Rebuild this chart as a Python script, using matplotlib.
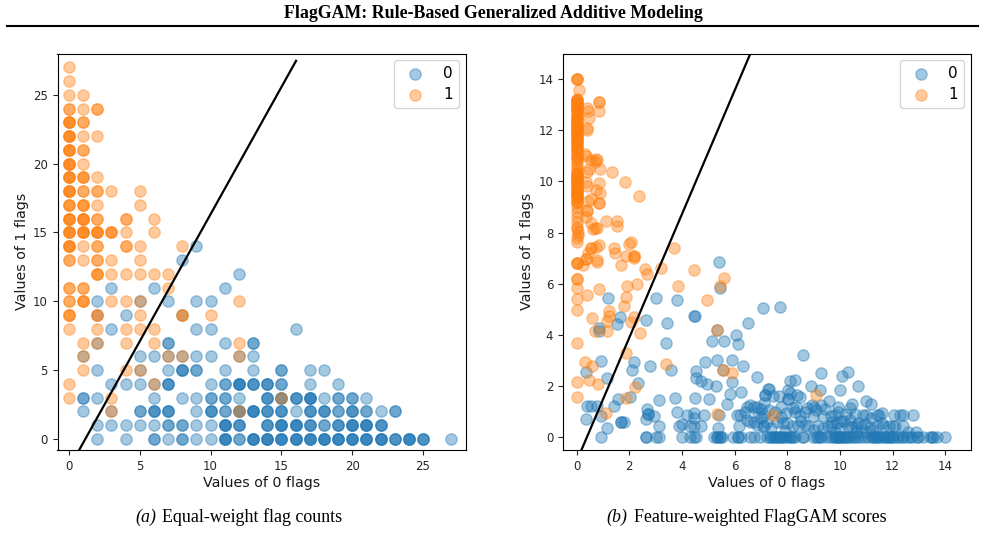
import matplotlib
matplotlib.use("Agg")
import matplotlib.pyplot as plt
import numpy as np

W, H = 985, 533
BLUE, ORANGE = "#1f77b4", "#ff7f0e"

# Panel (a): flag counts per item, with the number of items sharing each grid cell
a0_x = [9, 8, 12, 3, 6, 11, 2, 5, 7, 9, 10, 2, 4, 8, 3, 9, 10,
        2, 7, 11, 13, 16, 1, 5, 6, 7, 8, 9, 10, 12, 13,
        2, 5, 7, 8, 9, 11, 13, 15, 17, 18,
        3, 4, 5, 6, 7, 10, 11, 12, 13, 14, 15, 17, 19,
        1, 2, 6, 8, 9, 10, 11, 12, 14, 15, 16, 17, 18, 19, 20, 21,
        1, 3, 5, 6, 7, 9, 10, 11, 12, 13, 14, 15, 16, 17, 18, 19, 20, 21, 22, 23,
        2, 3, 4, 5, 6, 7, 8, 9, 10, 11, 12, 14, 15, 16, 17, 18, 19, 20, 21, 22,
        2, 4, 6, 7, 8, 9, 10, 11, 12, 13, 14, 15, 16, 17, 18, 19, 20, 21, 22, 23, 24, 25, 27]
a0_y = [14, 13, 12, 11, 11, 11, 10, 10, 10, 10, 10, 9, 9, 9, 8, 8, 8,
        7, 7, 7, 7, 8, 6, 6, 6, 6, 6, 6, 6, 6, 6,
        5, 5, 5, 5, 5, 5, 5, 5, 5, 5,
        4, 4, 4, 4, 4, 4, 4, 4, 4, 4, 4, 4, 4,
        3, 3, 3, 3, 3, 3, 3, 3, 3, 3, 3, 3, 3, 3, 3, 3,
        2, 2, 2, 2, 2, 2, 2, 2, 2, 2, 2, 2, 2, 2, 2, 2, 2, 2, 2, 2,
        1, 1, 1, 1, 1, 1, 1, 1, 1, 1, 1, 1, 1, 1, 1, 1, 1, 1, 1, 1,
        0, 0, 0, 0, 0, 0, 0, 0, 0, 0, 0, 0, 0, 0, 0, 0, 0, 0, 0, 0, 0, 0, 0]
a0_n = [1, 1, 1, 1, 1, 1, 1, 1, 1, 1, 1, 1, 1, 1, 1, 1, 1,
        1, 2, 1, 2, 1, 1, 1, 1, 1, 1, 1, 1, 1, 1,
        1, 1, 1, 3, 2, 1, 1, 2, 1, 1,
        1, 1, 1, 1, 3, 1, 2, 4, 3, 3, 2, 1, 1,
        2, 1, 1, 1, 1, 2, 2, 1, 3, 3, 3, 4, 1, 2, 2, 1,
        1, 1, 2, 3, 3, 1, 3, 2, 3, 4, 3, 3, 1, 3, 3, 2, 3, 2, 1, 2,
        1, 1, 1, 1, 1, 2, 2, 1, 1, 4, 3, 3, 4, 4, 3, 2, 3, 4, 4, 3,
        1, 1, 2, 1, 2, 1, 1, 4, 2, 4, 4, 4, 4, 4, 4, 4, 4, 4, 4, 3, 4, 3, 1]

a1_x = [0, 0, 0, 1, 0, 1, 2, 0, 1, 0, 1, 2, 0, 1, 0, 1,
        0, 1, 2, 0, 1, 2, 3, 5, 0, 1, 2, 5, 0, 1, 2, 4, 6,
        0, 1, 2, 3, 4, 6, 0, 1, 2, 4, 5, 8,
        0, 1, 2, 3, 5, 2, 3, 4, 5, 6, 7, 0, 1, 7,
        0, 1, 3, 4, 5, 12, 0, 2, 5, 8, 10, 0, 2, 4, 5, 6,
        1, 2, 4, 6, 12, 1, 7, 8, 12, 1, 4, 5,
        0, 6, 0, 3, 3, 12, 15]
a1_y = [27, 26, 25, 25, 24, 24, 24, 23, 23, 22, 22, 22, 21, 21, 20, 20,
        19, 19, 19, 18, 18, 18, 18, 18, 17, 17, 17, 17, 16, 16, 16, 16, 16,
        15, 15, 15, 15, 15, 15, 14, 14, 14, 14, 14, 14,
        13, 13, 13, 13, 13, 12, 12, 12, 12, 12, 12, 11, 11, 11,
        10, 10, 10, 10, 10, 10, 9, 9, 9, 9, 9, 8, 8, 8, 8, 8,
        7, 7, 7, 7, 7, 6, 6, 6, 6, 5, 5, 5,
        4, 4, 3, 3, 2, 2, 3]
a1_n = [1, 1, 1, 1, 2, 1, 2, 4, 2, 4, 1, 1, 4, 2, 4, 1,
        4, 3, 1, 4, 2, 2, 1, 1, 3, 3, 1, 1, 4, 4, 2, 2, 1,
        4, 4, 4, 3, 1, 1, 4, 1, 2, 2, 1, 1,
        2, 1, 2, 1, 1, 3, 1, 1, 1, 1, 1, 2, 2, 1,
        2, 3, 1, 1, 1, 1, 3, 2, 1, 2, 1, 1, 1, 1, 1, 1,
        1, 1, 1, 1, 1, 1, 1, 1, 1, 1, 1, 1,
        1, 1, 1, 1, 1, 1, 1]

# Panel (b): feature-weighted scores
b0_x = [1.2, 3.03, 3.8, 5.39, 5.46, 7.07, 6.51, 4.51, 4.45, 2.64, 3.43, 1.65, 1.53, 0.86, 0.86, 3.4, 5.32, 5.15,
        5.58, 6.05, 6.13, 5.34, 5.89, 6.31, 6.86, 0.93, 0.35, 1.14, 2.18, 2.09, 2.8, 3.59, 4.87, 4.54, 4.54, 4.73,
        4.94, 5.29, 5.55, 5.91, 6.25, 5.82, 5.7, 5.04, 4.51, 3.73, 3.12, 2.33, 2.03, 1.56, 1.43, 0.41, 0.53, 0.76,
        0.34, 0.93, 1.17, 0.91, 1.67, 1.67, 1.8, 2.66, 2.72, 2.72, 2.64, 2.95, 3.11, 2.64, 2.64, 3.02, 3.11,
        3.81, 4.18, 4.47, 4.47, 4.84, 5.39, 3.99, 3.9, 4.31, 4.47, 4.71, 5.37,
        3.99, 4.31, 4.44, 4.54, 5.2, 5.32, 5.32, 5.45, 5.45, 5.53, 5.92, 6.11, 6.11, 6.24, 6.59, 6.72, 6.97, 7.22,
        6.08, 6.21, 6.15, 7.29, 7.16, 7.1, 6.59, 6.46, 6.72, 6.84, 6.4, 6.59, 6.72, 6.9, 7.1, 6.46, 7.1, 7.22, 6.84,
        7.74, 7.0, 8.6, 9.3, 10.09, 10.32, 10.67, 9.99, 8.89, 9.24, 8.31, 8.12, 8.04, 8.1, 8.04, 8.04, 8.38, 8.48,
        7.25, 7.68, 7.47, 7.15, 9.58, 11.0, 11.19, 9.94, 10.47, 10.38, 10.57, 8.93, 9.0, 9.28, 8.23, 8.29, 8.67,
        8.96, 8.48, 8.54, 8.23, 8.67, 7.78, 7.84, 7.6, 7.02, 7.09, 7.4,
        9.37, 9.68, 9.81, 9.94, 10.04, 10.38, 10.89, 11.0, 11.17, 11.4, 11.59, 11.5, 12.05, 12.28, 12.38, 12.78,
        9.18, 9.37, 9.56, 9.68, 10.0, 10.32, 10.45, 10.63, 10.82, 11.14, 11.42, 11.63, 12.03, 12.1, 12.41,
        7.34, 7.4, 7.47, 7.53, 7.59, 7.66, 7.72, 7.78, 7.84, 7.91, 8.04, 8.1, 8.16, 8.23, 8.29, 8.61, 8.61, 8.99,
        9.11, 9.18, 9.24, 9.3, 9.49, 9.62, 9.75, 9.81, 9.87, 9.94, 9.94, 10.0, 10.06, 10.13, 10.19, 10.25, 10.32,
        10.38, 10.51, 10.57, 10.7, 10.82, 10.95, 11.08, 11.2, 11.27, 11.33, 11.39, 11.46, 11.52, 11.65, 11.71,
        11.77, 11.84, 11.9, 11.96, 12.03, 12.15, 12.22, 12.34, 12.41, 12.53, 12.66, 12.72, 12.91, 12.98, 13.17,
        13.42, 13.49, 13.55, 13.68, 14.0,
        7.3, 7.55, 7.75, 7.95, 8.35, 8.75, 9.1, 9.45, 9.7, 9.9, 10.15, 10.25, 10.7, 10.95, 11.2, 11.6, 11.85,
        12.6, 12.9, 8.0, 8.4, 9.0, 10.6, 11.0, 9.8, 7.9, 8.8]
b0_y = [5.44, 5.44, 5.35, 6.84, 5.83, 5.05, 4.48, 4.73, 4.75, 4.58, 4.48, 4.69, 4.44, 4.26, 4.16, 3.7, 4.21, 3.78,
        3.78, 4.0, 3.63, 3.02, 3.02, 2.78, 2.35, 2.99, 2.55, 2.33, 2.93, 2.64, 2.78, 2.64, 2.93, 2.59, 2.33, 2.2,
        2.07, 2.01, 2.64, 2.16, 1.76, 1.7, 1.29, 1.48, 1.53, 1.54, 1.45, 2.12, 1.59, 1.5, 1.22, 1.22, 1.22, 1.22,
        0.72, 0.81, 0.35, 0.0, 0.58, 0.58, 0.58, 1.12, 0.91, 0.91, 0.72, 0.84, 0.42, 0.0, 0.0, 0.0, 0.0,
        0.97, 0.88, 0.94, 0.77, 0.88, 0.88, 0.52, 0.42, 0.42, 0.42, 0.42, 0.35,
        0.0, 0.0, 0.0, 0.0, 0.0, 0.0, 0.0, 0.0, 0.0, 0.0, 0.0, 0.0, 0.0, 0.0, 0.0, 0.0, 0.0, 0.0,
        0.88, 0.88, 0.42, 1.9, 1.66, 1.33, 1.27, 1.2, 1.2, 1.2, 1.0, 0.6, 0.6, 0.94, 0.88, 0.68, 0.42, 0.6, 0.48,
        5.08, 1.1, 3.23, 2.5, 2.41, 2.56, 2.01, 1.86, 2.01, 1.86, 2.25, 2.21, 1.86, 1.73, 1.5, 1.5, 1.66, 1.56,
        1.9, 1.6, 1.6, 1.66, 1.42, 1.42, 1.29, 1.2, 1.31, 1.14, 0.9, 1.27, 1.2, 1.27, 1.14, 1.0, 1.0,
        0.81, 0.81, 0.65, 0.42, 0.48, 0.78, 0.55, 0.6, 0.74, 0.42, 0.35,
        0.81, 0.84, 0.88, 1.0, 0.65, 0.68, 0.88, 0.88, 0.74, 0.88, 0.94, 0.88, 0.85, 0.88, 0.88, 0.88,
        0.42, 0.35, 0.42, 0.42, 0.35, 0.42, 0.39, 0.42, 0.42, 0.39, 0.44, 0.44, 0.44, 0.42, 0.42,
        0.0, 0.0, 0.0, 0.0, 0.0, 0.0, 0.0, 0.0, 0.0, 0.0, 0.0, 0.0, 0.0, 0.0, 0.0, 0.0, 0.0, 0.0,
        0.0, 0.0, 0.0, 0.0, 0.0, 0.0, 0.0, 0.0, 0.0, 0.0, 0.0, 0.0, 0.0, 0.0, 0.0, 0.0, 0.0,
        0.0, 0.0, 0.0, 0.0, 0.0, 0.0, 0.0, 0.0, 0.0, 0.0, 0.0, 0.0, 0.0, 0.0, 0.0,
        0.0, 0.0, 0.0, 0.0, 0.0, 0.0, 0.0, 0.0, 0.0, 0.0, 0.0, 0.0, 0.0, 0.0, 0.0,
        0.0, 0.0, 0.0, 0.0, 0.0,
        1.05, 1.0, 1.18, 0.95, 1.2, 1.15, 1.05, 1.1, 0.6, 0.55, 0.65, 0.9, 0.55, 0.5, 0.3, 0.55, 0.42,
        0.2, 0.2, 0.55, 0.45, 0.3, 0.2, 0.2, 0.2, 0.25, 0.45]

b1_x = [0.0, 0.0, 0.0, 0.08, 0.85, 0.85, 0.85, 0.39, 0.44, 0.46, 0.41, 0.41, 0.32, 0.37, 0.56, 0.75, 0.68, 0.79,
        0.87, 0.47, 0.41, 1.34, 1.85, 2.37, 0.85, 0.37, 0.41, 0.72, 0.87, 0.56, 0.43, 0.85, 0.85, 0.39, 0.34, 0.39,
        1.13, 1.53, 1.52, 0.56, 0.62, 0.77, 0.68, 2.05, 1.99, 1.42, 1.47, 1.86, 2.17, 2.17, 2.17, 3.68, 0.85, 0.56,
        0.56, 0.75, 0.43, 0.34, 0.79, 0.0, 0.0, 0.0, 0.25, 0.35, 0.79, 0.0, 0.0, 0.0, 0.0, 0.0, 0.0, 0.0, 0.0,
        0.86, 0.41, 0.57, 1.23, 1.23, 1.14, 1.14, 0.7, 1.88, 1.79, 1.91, 2.29, 2.6, 2.66, 3.21, 4.47, 3.85, 4.94,
        5.58, 5.45, 2.17, 2.07, 2.41, 1.88, 3.4, 0.32, 0.57, 0.46, 0.82, 2.2, 1.88, 1.13, 5.32, 5.55, 5.89, 5.32,
        1.7, 7.46, 9.09, 0.05, 0.04, 0.03, 0.02]
b1_y = [14.0, 14.0, 14.0, 13.57, 13.1, 13.1, 12.75, 12.86, 12.74, 12.47, 12.09, 12.0, 11.07, 10.98, 10.83, 10.87,
        10.77, 10.85, 10.49, 10.49, 10.35, 10.35, 9.97, 9.42, 9.93, 9.96, 9.83, 9.66, 9.54, 9.31, 9.24, 9.15, 9.15,
        8.85, 8.59, 8.89, 8.45, 8.44, 8.26, 8.39, 8.13, 8.17, 8.19, 7.64, 7.54, 7.39, 7.19, 7.08, 7.08, 7.08, 7.0,
        7.38, 7.5, 7.38, 7.38, 7.45, 7.21, 6.95, 6.92, 6.8, 6.8, 6.8, 6.73, 6.95, 6.86, 6.2, 6.2, 5.82, 5.39, 4.98,
        3.7, 2.17, 1.56, 5.79, 5.56, 4.67, 4.95, 4.73, 4.54, 4.14, 4.14, 5.48, 5.12, 5.93, 5.97, 6.56, 6.39, 6.6,
        6.54, 5.92, 5.35, 6.24, 5.93, 4.69, 4.51, 4.09, 3.31, 2.88, 2.94, 2.78, 2.24, 2.07, 1.96, 1.54, 0.93, 4.21,
        2.64, 2.52, 0.89, 6.73, 0.87, 1.66, 8.02, 7.9, 7.78, 7.65]

# Items with no 0 flags at all, stacked along the left edge of panel (b)
b1_edge_y = [13.22, 13.18, 13.12, 13.05, 13.0, 12.95, 12.9, 12.85, 12.8, 12.72, 12.6, 12.5, 12.42, 12.35, 12.3, 12.25,
             12.18, 12.12, 12.05, 12.0, 11.92, 11.85, 11.78, 11.7, 11.62, 11.55, 11.45, 11.35, 11.25, 11.12, 11.05,
             10.95, 10.85, 10.7, 10.62, 10.5, 10.35, 10.28, 10.2, 10.12, 10.05, 9.98, 9.9, 9.82, 9.75, 9.68, 9.6, 9.52,
             9.45, 9.35, 9.25, 9.15, 8.98, 8.8, 8.6, 8.42, 8.2, 8.12,
             13.2, 13.1, 13.0, 12.88, 12.78, 12.55, 12.45, 12.32, 12.2, 12.1, 11.98, 11.88, 11.75, 11.65, 11.5, 11.4,
             11.3, 11.2, 10.9, 10.3, 10.22, 10.15, 10.0, 9.92, 9.78, 9.65, 9.55, 9.48, 9.38, 9.2]

# Separating line through each panel, as (start, end) in data units
a_line_x = [0.73, 16.04]
a_line_y = [-0.8, 27.47]
b_line_x = [0.18, 6.6]
b_line_y = [-0.5, 15.0]

a_ticks = [0, 5, 10, 15, 20, 25]
b_ticks = [0, 2, 4, 6, 8, 10, 12, 14]
class_labels = ["0", "1"]

fig = plt.figure(figsize=(W / 100, H / 100), dpi=100)


def px_axes(left, top, right, bottom):
    return fig.add_axes([left / W, 1 - bottom / H, (right - left) / W, (bottom - top) / H])


def finish(ax, xlim, ylim, ticks_x, ticks_y):
    ax.set_xlim(*xlim)
    ax.set_ylim(*ylim)
    ax.set_xticks(ticks_x)
    ax.set_yticks(ticks_y)
    ax.tick_params(labelsize=8.5, length=3.5, width=0.8, pad=3.5, colors="#262626")
    ax.set_xlabel("Values of 0 flags", fontsize=10.25, labelpad=2, color="#1a1a1a")
    ax.set_ylabel("Values of 1 flags", fontsize=10.25, labelpad=3, color="#1a1a1a")
    ax.legend(loc="upper right", fontsize=11, borderaxespad=0.45, handletextpad=0.8,
              borderpad=0.4, labelspacing=0.35, handlelength=2.0)


style = dict(s=66, alpha=0.4, linewidths=1.0)

ax_a = px_axes(57.5, 53.5, 465.5, 450)
ax_a.scatter(np.repeat(a0_x, a0_n), np.repeat(a0_y, a0_n), color=BLUE, label=class_labels[0], **style)
ax_a.scatter(np.repeat(a1_x, a1_n), np.repeat(a1_y, a1_n), color=ORANGE, label=class_labels[1], **style)
ax_a.plot(a_line_x, a_line_y, color="black", lw=1.6)
finish(ax_a, (-0.8, 28), (-0.8, 28), a_ticks, a_ticks)

ax_b = px_axes(563, 53.5, 971, 450)
ax_b.scatter(b0_x, b0_y, color=BLUE, label=class_labels[0], **style)
ax_b.scatter(np.concatenate([b1_x, np.zeros(len(b1_edge_y))]), np.concatenate([b1_y, b1_edge_y]),
             color=ORANGE, label=class_labels[1], **style)
ax_b.plot(b_line_x, b_line_y, color="black", lw=1.6)
finish(ax_b, (-0.52, 14.98), (-0.5, 15), b_ticks, b_ticks)

SERIF = "Liberation Serif"
fig.text(493 / W, 1 - 14 / H, "FlagGAM: Rule-Based Generalized Additive Modeling", family=SERIF,
         fontweight="bold", fontsize=12.9, ha="center", va="center")
fig.add_artist(plt.Line2D([7 / W, 978 / W], [1 - 26 / H] * 2, color="black", lw=1.5))

fig.text(135 / W, 1 - 517.5 / H, "(a)", family=SERIF, style="italic", fontsize=12.9, va="center")
fig.text(162 / W, 1 - 517.5 / H, "Equal-weight flag counts", family=SERIF, fontsize=12.9, va="center")
fig.text(606 / W, 1 - 517.5 / H, "(b)", family=SERIF, style="italic", fontsize=12.9, va="center")
fig.text(634 / W, 1 - 517.5 / H, "Feature-weighted FlagGAM scores", family=SERIF, fontsize=12.9, va="center")

fig.savefig("out.png", dpi=100)
